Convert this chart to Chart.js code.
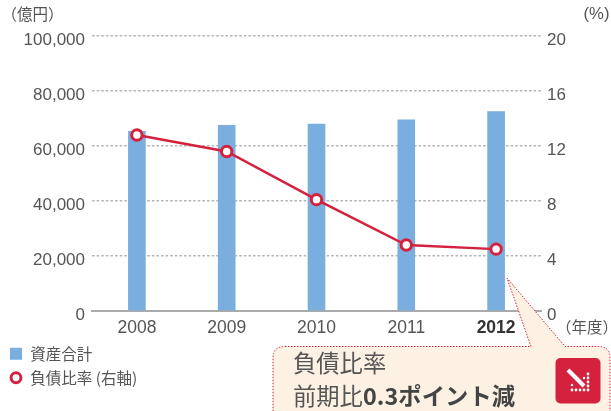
<!DOCTYPE html>
<html lang="ja">
<head>
<meta charset="utf-8">
<script src="https://cdn.jsdelivr.net/npm/chart.js@4"></script>
<style>
html,body{margin:0;padding:0;background:#fff;}
#wrap{position:relative;width:611px;height:411px;overflow:hidden;font-family:"Noto Sans CJK JP","Noto Sans",sans-serif;color:#555;}
canvas{position:absolute;left:0;top:0;}
.u{position:absolute;font-size:15.5px;line-height:20px;white-space:nowrap;}
#call{position:absolute;left:0;top:0;}
.ct{position:absolute;left:293px;font-size:23.3px;line-height:30px;white-space:nowrap;color:#555;}
.ct b{font-family:"Noto Sans CJK JP";font-weight:700;color:#444;letter-spacing:.1px;}
</style>
</head>
<body>
<div id="wrap">
<canvas id="c" width="611" height="411"></canvas>
<svg id="call" width="611" height="411">
<path d="M285 346.5 H531 L507 278 L565 346.5 H598 Q610 346.5 610 358 V430 H273 V358 Q273 346.5 285 346.5 Z" fill="#fdf1e3" stroke="#d4213d" stroke-width="1" stroke-dasharray="1.5 1.5"/>
<rect x="555.5" y="358" width="45" height="45.5" rx="5" fill="#d4213d"/>
<path d="M568 370 L584 386" stroke="#fff" stroke-width="4"/>
<g fill="#fff"><circle cx="588" cy="374" r="1.4"/><circle cx="588" cy="378" r="1.4"/><circle cx="588" cy="382" r="1.4"/><circle cx="588" cy="386" r="1.4"/><circle cx="588" cy="390" r="1.4"/><circle cx="584" cy="390" r="1.4"/><circle cx="580" cy="390" r="1.4"/><circle cx="576" cy="390" r="1.4"/><circle cx="572" cy="390" r="1.4"/><circle cx="584" cy="378" r="1.2"/><circle cx="572" cy="385" r="1.2"/></g>
</svg>
<div class="u" style="left:1.5px;top:2.5px;">（億円）</div>
<div class="u" style="left:583.5px;top:4px;font-family:'Liberation Sans';font-size:16.7px;">(%)</div>
<div class="u" style="left:556px;top:316px;">（年度）</div>
<div class="ct" style="top:347px;">負債比率</div>
<div class="ct" style="top:380px;">前期比<b>0.3ポイント減</b></div>
</div>
<script>
const categories = ['2008', '2009', '2010', '2011', '2012'];
const totalAssets = [65300, 67500, 68000, 69500, 72500];
const debtRatio = [12.8, 11.6, 8.1, 4.8, 4.5];
const assetLabel = '資産合計';
const ratioLabel = '負債比率 (右軸)';

const BLUE = '#7aaede', RED = '#d4213d', TEXT = '#555555';
const yFont = {family: '"Liberation Sans", Arial, sans-serif', size: 17};
const xFont = {family: '"Liberation Sans", Arial, sans-serif', size: 17.5};

// Reference tick labels sit a little below their gridlines.
function nudgeLabels(scale, dy) {
  if (scale._nudged) return;
  const orig = scale._computeLabelItems.bind(scale);
  scale._computeLabelItems = function (area) {
    const items = orig(area);
    items.forEach(it => { it.options.translation = [it.options.translation[0], it.options.translation[1] + dy]; });
    return items;
  };
  scale._nudged = true;
}

const legendPlace = {
  id: 'legendPlace',
  beforeLayout(chart) {
    const lg = chart.legend;
    if (lg && !lg._wrapped) {
      const fit = lg.fit.bind(lg);
      lg.fit = function () { fit(); this._w = this.width; this._h = this.height; this.width = 0; this.height = 0; };
      lg._wrapped = true;
    }
  },
  afterLayout(chart) {
    const lg = chart.legend;
    lg.left = 1; lg.top = 337.5; lg.right = 1 + lg._w; lg.bottom = 337.5 + lg._h;
    lg.width = lg._w; lg.height = lg._h;
  }
};

new Chart(document.getElementById('c'), {
  data: {
    labels: categories,
    datasets: [
      {type: 'bar', label: assetLabel, data: totalAssets, yAxisID: 'y', order: 2,
       backgroundColor: BLUE, borderColor: BLUE, borderWidth: 0, barThickness: 17},
      {type: 'line', label: ratioLabel, data: debtRatio, yAxisID: 'y1', order: 1,
       borderColor: RED, borderWidth: 2.5, tension: 0,
       pointRadius: 5.2, pointBorderWidth: 3, pointBackgroundColor: '#fff', pointBorderColor: RED}
    ]
  },
  options: {
    responsive: false,
    animation: false,
    layout: {padding: {top: 36, left: 0, right: 0, bottom: 0}},
    plugins: {
      tooltip: {enabled: false},
      legend: {
        position: 'left',
        align: 'start',
        maxWidth: 400,
        labels: {
          usePointStyle: true,
          boxWidth: 13,
          boxHeight: 7,
          padding: 8.5,
          color: TEXT,
          font: {family: '"Noto Sans CJK JP"', size: 15.5},
          generateLabels(chart) {
            return chart.data.datasets.map((d, i) => i === 0
              ? {text: d.label, datasetIndex: i, fillStyle: BLUE, strokeStyle: BLUE, lineWidth: 5, pointStyle: 'rect', fontColor: TEXT}
              : {text: d.label, datasetIndex: i, fillStyle: '#fff', strokeStyle: RED, lineWidth: 3, pointStyle: 'circle', fontColor: TEXT});
          }
        }
      }
    },
    scales: {
      x: {
        grid: {display: false, drawTicks: false},
        border: {display: true, color: '#aaaaaa', width: 2},
        ticks: {
          color: ctx => ctx.index === 4 ? '#333' : TEXT,
          padding: 7,
          maxRotation: 0,
          font: ctx => ctx.index === 4 ? {...xFont, weight: 'bold'} : {...xFont, weight: 'normal'}
        },
        afterFit(s) { s.height = 100; }
      },
      y: {
        position: 'left',
        min: 0, max: 100000,
        grid: {color: '#b5b5b5', lineWidth: 1.5, drawTicks: false},
        border: {display: false, dash: [2.6, 2]},
        ticks: {stepSize: 20000, color: TEXT, padding: 7, font: yFont,
                callback: v => v.toLocaleString('en-US')},
        afterFit(s) { s.width = 92; nudgeLabels(s, 4); }
      },
      y1: {
        position: 'right',
        min: 0, max: 20,
        grid: {display: false, drawTicks: false},
        border: {display: false},
        ticks: {stepSize: 4, color: TEXT, padding: 6, font: yFont},
        afterFit(s) { s.width = 70; nudgeLabels(s, 4); }
      }
    }
  },
  plugins: [legendPlace]
});
</script>
</body>
</html>
